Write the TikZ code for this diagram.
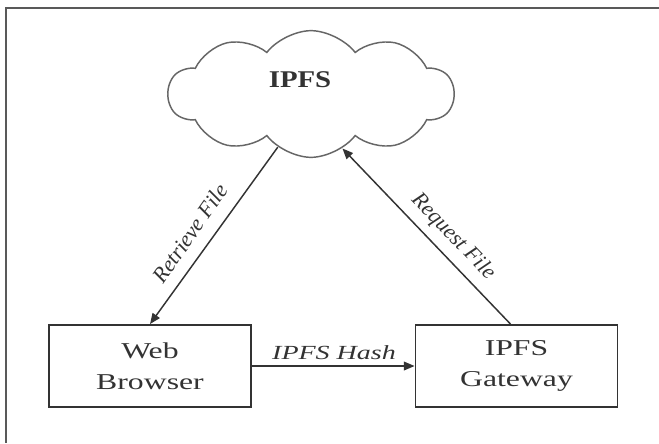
\documentclass[tikz,border=0pt]{standalone}
\usepackage{fontspec}
\setmainfont{Liberation Serif}
\usetikzlibrary{shapes.symbols,arrows.meta,calc}
\newcommand\sx[2][1.4]{\scalebox{#1}[1]{#2}}
\definecolor{ink}{HTML}{333333}
\tikzset{
  box/.style={draw=ink, line width=1.4pt, minimum width=151.5pt, minimum height=61.5pt, inner sep=0pt, align=center, text=ink, font=\fontsize{17}{23}\selectfont},
  conn/.style={draw=ink, line width=1.1pt, -{Triangle[length=8pt,width=6.5pt]}},
  lbl/.style={text=ink, font=\fontsize{15}{18}\selectfont\itshape, inner sep=1pt},
  rlbl/.style={text=ink, font=\fontsize{16.5}{18}\selectfont\itshape, inner sep=1pt},
  frame/.style={draw=black!65, line width=1.6pt}
}
\begin{document}
\begin{tikzpicture}[x=0.75pt,y=-0.75pt]
\useasboundingbox (0,0) rectangle (659,443);
\fill[white] (0,0) rectangle (659,443);
% outer frame
\coordinate (ftl) at (6,8);
\coordinate (ftr) at (659,8);
\coordinate (fbl) at (6,443);
\draw[frame] (ftr) -- (ftl) -- (fbl);
% cloud
\node[cloud, cloud puffs=10, cloud puff arc=105, aspect=2.3, draw=black!60, line width=1.1pt,
      minimum width=214pt, minimum height=95pt, inner sep=0pt] (ipfs) at (311,94) {};
\node[text=ink, font=\fontsize{18}{20}\selectfont\bfseries] (ipfstxt) at (300,80) {\sx[1.2]{IPFS}};
% boxes
\node[box] (web) at (150,366) {\sx{Web}\\\sx{Browser}};
\node[box] (gw) at (516.5,366) {\sx{IPFS}\\\sx{Gateway}};
% connectors
\coordinate (cl) at (ipfs.238);
\coordinate (cr) at (ipfs.300);
\draw[conn] (cl) -- (web.north);
\draw[conn] ([xshift=-4.5pt]gw.north) -- (cr);
\draw[conn] (web.east) -- (gw.west);
% labels
\node[rlbl, rotate=55] (lret) at (190,233) {Retrieve File};
\node[rlbl, rotate=-46] (lreq) at (453,237) {Request File};
\node[lbl] (lhash) at (334,353) {\sx[1.4]{IPFS Hash}};
\end{tikzpicture}
\end{document}
